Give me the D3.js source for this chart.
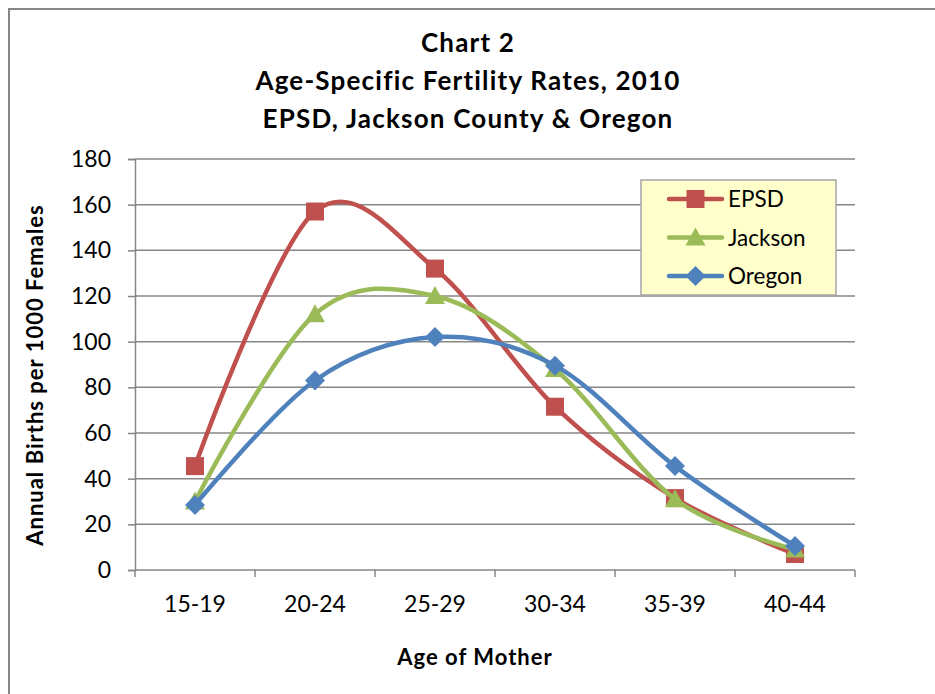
<!DOCTYPE html>
<html>
<head>
<meta charset="utf-8">
<script src="https://cdn.jsdelivr.net/npm/d3@7"></script>
<style>
  body { margin: 0; background: #fff; }
  text { font-family: Lato, "Open Sans", sans-serif; fill: #000; }
</style>
</head>
<body>
<div id="chart"></div>
<script>
// data
const ageGroups = ['15-19', '20-24', '25-29', '30-34', '35-39', '40-44'];
const epsd = [45.5, 157, 132, 71.5, 31.5, 7];
const jackson = [30, 112, 120, 88, 31, 9];
const oregon = [28.5, 83, 102, 89.5, 45.5, 10.5];
const seriesNames = ['EPSD', 'Jackson', 'Oregon'];
const yTicks = [0, 20, 40, 60, 80, 100, 120, 140, 160, 180];
const titleLines = ['Chart 2', 'Age-Specific Fertility Rates, 2010', 'EPSD, Jackson County & Oregon'];

const series = [
  { name: seriesNames[0], values: epsd, color: '#C0504D', marker: 'square' },
  { name: seriesNames[1], values: jackson, color: '#9BBB59', marker: 'triangle' },
  { name: seriesNames[2], values: oregon, color: '#4F81BD', marker: 'diamond' }
];

const W = 935, H = 694;
const margin = { top: 159, right: 80, bottom: 124, left: 135 };
const width = W - margin.left - margin.right;
const height = H - margin.top - margin.bottom;

const svg = d3.select('#chart').append('svg')
  .attr('width', W).attr('height', H);

// outer frame
svg.append('rect')
  .attr('x', 9).attr('y', 9)
  .attr('width', W).attr('height', H)
  .attr('fill', 'none').attr('stroke', '#868686').attr('stroke-width', 2);

// title
svg.selectAll('.title').data(titleLines).enter().append('text')
  .attr('class', 'title')
  .attr('x', 468).attr('y', (d, i) => 52 + i * 38)
  .attr('text-anchor', 'middle')
  .style('font-size', '26px').style('font-weight', 'bold')
  .style('letter-spacing', '1.2px')
  .text(d => d);

const g = svg.append('g')
  .attr('transform', 'translate(' + margin.left + ',' + margin.top + ')');

const xScale = d3.scaleBand().domain(ageGroups).range([0, width]);
const yScale = d3.scaleLinear().domain([0, 180]).range([height, 0]);

// gridlines
g.selectAll('.grid').data(yTicks.slice(1)).enter().append('line')
  .attr('x1', 0).attr('x2', width)
  .attr('y1', d => yScale(d)).attr('y2', d => yScale(d))
  .attr('stroke', '#868686').attr('stroke-width', 1.5);

// y axis
const yAxis = d3.axisLeft(yScale).tickValues(yTicks).tickSize(7).tickPadding(17);
const yg = g.append('g').call(yAxis);
yg.select('.domain').attr('stroke', '#868686').attr('stroke-width', 1.5);
yg.selectAll('.tick line').attr('stroke', '#868686').attr('stroke-width', 1.5);
yg.selectAll('.tick text').style('font-size', '23px').attr('fill', '#000');

// x axis: ticks at category boundaries
const xg = g.append('g').attr('transform', 'translate(0,' + height + ')');
xg.append('line').attr('x1', 0).attr('x2', width)
  .attr('stroke', '#868686').attr('stroke-width', 1.5);
const bounds = ageGroups.map(d => xScale(d)).concat([width]);
xg.selectAll('.xtick').data(bounds).enter().append('line')
  .attr('x1', d => d).attr('x2', d => d).attr('y1', 0).attr('y2', 7)
  .attr('stroke', '#868686').attr('stroke-width', 1.5);
xg.selectAll('.xlab').data(ageGroups).enter().append('text')
  .attr('x', d => xScale(d) + xScale.bandwidth() / 2)
  .attr('y', 42)
  .attr('text-anchor', 'middle')
  .style('font-size', '23px')
  .text(d => d);

// axis titles
svg.append('text')
  .attr('x', 475).attr('y', 665)
  .attr('text-anchor', 'middle')
  .style('font-size', '22px').style('font-weight', 'bold')
  .style('letter-spacing', '1px')
  .text('Age of Mother');
svg.append('text')
  .attr('transform', 'translate(43,375) rotate(-90)')
  .attr('text-anchor', 'middle')
  .style('font-size', '22px').style('font-weight', 'bold')
  .style('letter-spacing', '1px')
  .text('Annual Births per 1000 Females');

// marker shapes
function markerPath(type) {
  if (type === 'square') return 'M-9,-9H9V9H-9Z';
  if (type === 'triangle') return 'M0,-10L10,8H-10Z';
  return 'M0,-10L10,0L0,10L-10,0Z';
}

const line = d3.line()
  .x((d, i) => xScale(ageGroups[i]) + xScale.bandwidth() / 2)
  .y(d => yScale(d))
  .curve(d3.curveCardinal.tension(0));

series.forEach(s => {
  g.append('path')
    .datum(s.values)
    .attr('fill', 'none')
    .attr('stroke', s.color)
    .attr('stroke-width', 4.5)
    .attr('stroke-linejoin', 'round')
    .attr('stroke-linecap', 'round')
    .attr('d', line);
  g.selectAll('.m-' + s.marker).data(s.values).enter().append('path')
    .attr('transform', (d, i) => 'translate(' + (xScale(ageGroups[i]) + xScale.bandwidth() / 2) + ',' + yScale(d) + ')')
    .attr('d', markerPath(s.marker))
    .attr('fill', s.color);
});

// legend
const legend = svg.append('g').attr('transform', 'translate(641,180)');
legend.append('rect')
  .attr('width', 195).attr('height', 115)
  .attr('fill', '#FFFFCC').attr('stroke', '#A6A6A6').attr('stroke-width', 1.5);
series.forEach((s, i) => {
  const y = 19 + i * 38.5;
  legend.append('line')
    .attr('x1', 28).attr('x2', 81).attr('y1', y).attr('y2', y)
    .attr('stroke', s.color).attr('stroke-width', 4.5).attr('stroke-linecap', 'round');
  legend.append('path')
    .attr('transform', 'translate(54.5,' + y + ')')
    .attr('d', markerPath(s.marker))
    .attr('fill', s.color);
  legend.append('text')
    .attr('x', 87).attr('y', y + 8)
    .style('font-size', '22.5px')
    .text(s.name);
});
</script>
</body>
</html>
